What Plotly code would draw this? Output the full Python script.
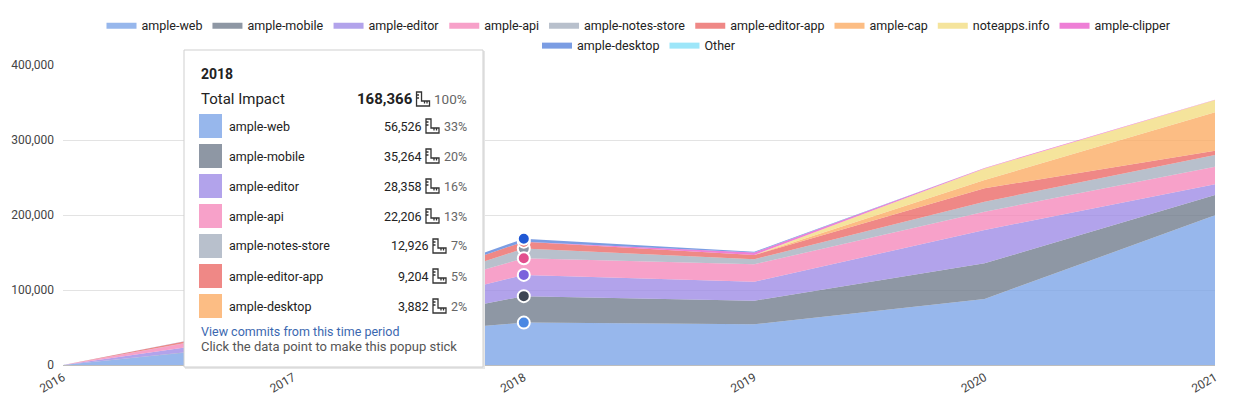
import plotly.graph_objects as go

# yearly impact per repo (2018 values come straight from the popup)
years = [2016, 2017, 2018, 2019, 2020, 2021]
repos = ['ample-web', 'ample-mobile', 'ample-editor', 'ample-api', 'ample-notes-store',
         'ample-editor-app', 'ample-cap', 'noteapps.info', 'ample-clipper', 'ample-desktop', 'Other']

ample_web = [0, 31000, 56526, 54200, 88000, 199600]
ample_mobile = [0, 1000, 35264, 31600, 47600, 27100]
ample_editor = [0, 12000, 28358, 25200, 44400, 14300]
ample_api = [0, 11000, 22206, 23200, 24400, 23400]
ample_notes_store = [0, 500, 12926, 6800, 13400, 15600]
ample_editor_app = [0, 4000, 9204, 5700, 17800, 5800]
ample_cap = [0, 0, 0, 0, 11100, 51200]
noteapps_info = [0, 0, 0, 0, 15300, 16300]
ample_clipper = [0, 0, 0, 3300, 800, 300]
ample_desktop = [0, 500, 3882, 1000, 0, 0]
other = [0, 0, 0, 0, 0, 0]

series = [ample_web, ample_mobile, ample_editor, ample_api, ample_notes_store,
          ample_editor_app, ample_cap, noteapps_info, ample_clipper, ample_desktop, other]

y_ticks = [0, 100000, 200000, 300000, 400000]

# popup shown for this year
tip_year = 2018

colors = ['#97b7ec', '#8e97a4', '#b2a3eb', '#f7a1c9', '#b8c0cc', '#ef8886',
          '#fcbd84', '#f5e49c', '#ee7fd6', '#7b9de3', '#9de6f9']
dot_colors = ['#4a88e3', '#3d4554', '#7b62dc', '#e2508e', '#8b96a6', '#e0504c',
              '#f08a3a', '#e0c040', '#d040b0', '#2058d4', '#30b0e0']
# the popup swatches (desktop shows up orange there)
tip_swatches = ['#97b7ec', '#8e97a4', '#b2a3eb', '#f7a1c9', '#b8c0cc', '#ef8886', '#fcbd84']

# page has an 8px body margin, so the figure is a bit smaller than the window
OFF = 8
W, H = 1248 - OFF, 410 - OFF
PL, PR, PT, PB = 63, 1215, 65, 365   # plot box in window pixels
FONT = 'Roboto, Arial, sans-serif'


def px(x):
    return (x - PL) / (PR - PL)


def py(y):
    return (PB - y) / (PB - PT)


def rgba(hexcol, a=0.78):
    # colour that gives hexcol once blended on white at opacity a
    c = [int(hexcol[i:i + 2], 16) for i in (1, 3, 5)]
    c = [max(0, min(255, round((v - (1 - a) * 255) / a))) for v in c]
    return 'rgba(%d,%d,%d,%.2f)' % (c[0], c[1], c[2], a)


def pct_width(s, size):
    # rough Roboto width of "33%"
    return size * (0.56 * (len(s) - 1) + 0.8)


def ruler_icon(x1, yc):
    # small L shaped ruler, right edge at x1, centred on yc (window pixels)
    x0 = x1 - 13
    top, bot = yc - 7, yc + 7
    pts = [(x0, top), (x0 + 5, top), (x0 + 5, bot - 5), (x1, bot - 5), (x1, bot), (x0, bot)]
    path = 'M' + ' L'.join('%.5f,%.5f' % (px(a), py(b)) for a, b in pts) + ' Z'
    for tx in (x0 + 8, x0 + 10.5):
        path += ' M%.5f,%.5f L%.5f,%.5f' % (px(tx), py(bot - 5), px(tx), py(bot - 2.5))
    for ty in (top + 3, top + 6):
        path += ' M%.5f,%.5f L%.5f,%.5f' % (px(x0), py(ty), px(x0 + 2.5), py(ty))
    return dict(type='path', xref='paper', yref='paper', path=path,
                line=dict(color='#333', width=1.3), layer='above')


fig = go.Figure()

for i, name in enumerate(repos):
    fig.add_trace(go.Scatter(
        x=years,
        y=series[i],
        name=name,
        mode='lines',
        stackgroup='one',
        line=dict(width=0, color=rgba(colors[i], 0.9)),
        fillcolor=rgba(colors[i]),
        hoverinfo='skip',
        legend='legend' if i < 9 else 'legend2',
    ))

# dots on the hovered year, at the top of each non-empty layer
k = years.index(tip_year)
running = 0
order = []
for i in range(len(repos)):
    running += series[i][k]
    if series[i][k] > 0:
        order.append((i, running))
# notes-store / editor-app first so the others sit on top
order.sort(key=lambda t: 0 if repos[t[0]] in ('ample-notes-store', 'ample-editor-app') else 1)

fig.add_trace(go.Scatter(
    x=[tip_year] * len(order),
    y=[yv for i, yv in order],
    mode='markers',
    marker=dict(size=12, color=[dot_colors[i] for i, yv in order], line=dict(color='white', width=2)),
    showlegend=False,
    hoverinfo='skip',
))

# --- popup box ---
shapes = [
    dict(type='rect', xref='paper', yref='paper', x0=px(185), x1=px(485), y0=py(369), y1=py(51),
         fillcolor='#e6e6e6', line=dict(width=0), layer='above'),
    dict(type='rect', xref='paper', yref='paper', x0=px(184), x1=px(483), y0=py(367), y1=py(50),
         fillcolor='white', line=dict(color='#cfcfcf', width=1), layer='above'),
]

annotations = [
    dict(x=px(199), y=py(74), text='<b>%d</b>' % tip_year, xanchor='left', yanchor='middle',
         font=dict(size=14, color='#222', family=FONT)),
    dict(x=px(199), y=py(99), text='Total Impact', xanchor='left', yanchor='middle',
         font=dict(size=15, color='#222', family=FONT)),
]

RIGHT = 469
tip_total = sum(s[k] for s in series)
annotations.append(dict(x=px(RIGHT), y=py(99), xanchor='right', yanchor='middle', text='100%',
                        font=dict(size=13.5, color='#666', family=FONT)))
icon_r = RIGHT - pct_width('100%', 13.5) - 6
shapes.append(ruler_icon(icon_r, 99))
annotations.append(dict(x=px(icon_r - 15), y=py(99), xanchor='right', yanchor='middle',
                        text='<b>{:,}</b>'.format(tip_total),
                        font=dict(size=15, color='#222', family=FONT)))

row = 0
for i in range(len(repos)):
    v = series[i][k]
    if v <= 0:
        continue
    yc = 126 + 30 * row
    pct = '%d%%' % int(100 * v / tip_total)
    shapes.append(dict(type='rect', xref='paper', yref='paper', x0=px(199), x1=px(222),
                       y0=py(yc + 12), y1=py(yc - 12), fillcolor=tip_swatches[row],
                       line=dict(width=0), layer='above'))
    annotations.append(dict(x=px(227), y=py(yc), text=repos[i], xanchor='left', yanchor='middle',
                            font=dict(size=12.5, color='#222', family=FONT)))
    annotations.append(dict(x=px(RIGHT), y=py(yc), xanchor='right', yanchor='middle', text=pct,
                            font=dict(size=12.5, color='#666', family=FONT)))
    icon_r = RIGHT - pct_width(pct, 12.5) - 6
    shapes.append(ruler_icon(icon_r, yc))
    annotations.append(dict(x=px(icon_r - 15), y=py(yc), xanchor='right', yanchor='middle',
                            text='{:,}'.format(v),
                            font=dict(size=12.5, color='#222', family=FONT)))
    row += 1

annotations.append(dict(x=px(199), y=py(331), text='View commits from this time period',
                        xanchor='left', yanchor='middle',
                        font=dict(size=12.5, color='#3b68b0', family=FONT)))
annotations.append(dict(x=px(199), y=py(346), text='Click the data point to make this popup stick',
                        xanchor='left', yanchor='middle',
                        font=dict(size=13, color='#555', family=FONT)))
for a in annotations:
    a['xref'] = 'paper'
    a['yref'] = 'paper'
    a['showarrow'] = False

fig.update_layout(
    width=W,
    height=H,
    margin=dict(l=PL - OFF, r=W - (PR - OFF), t=PT - OFF, b=H - (PB - OFF), autoexpand=False),
    plot_bgcolor='white',
    paper_bgcolor='white',
    font=dict(family=FONT, size=12, color='#444'),
    hovermode=False,
    legend=dict(orientation='h', x=0.5, xanchor='center', y=py(25), yanchor='middle',
                traceorder='normal', font=dict(size=12.5, color='#222'), bgcolor='rgba(0,0,0,0)'),
    legend2=dict(orientation='h', x=0.5, xanchor='center', y=py(45), yanchor='middle',
                 traceorder='normal', font=dict(size=12.5, color='#222'), bgcolor='rgba(0,0,0,0)'),
    xaxis=dict(range=[years[0], years[-1]], tickvals=years, ticktext=[str(y) for y in years],
               tickangle=-30, showgrid=False, zeroline=False, showline=True, automargin=False,
               linecolor='#bdbdbd', ticks='', tickfont=dict(size=12, color='#444')),
    yaxis=dict(range=[0, 400000], tickvals=y_ticks, tickformat=',', showgrid=True, automargin=False,
               gridcolor='#e3e3e3', zeroline=False, ticks='', ticklabelstandoff=8,
               tickfont=dict(size=12, color='#444')),
    shapes=shapes,
    annotations=annotations,
)

fig.write_html('out.html')
